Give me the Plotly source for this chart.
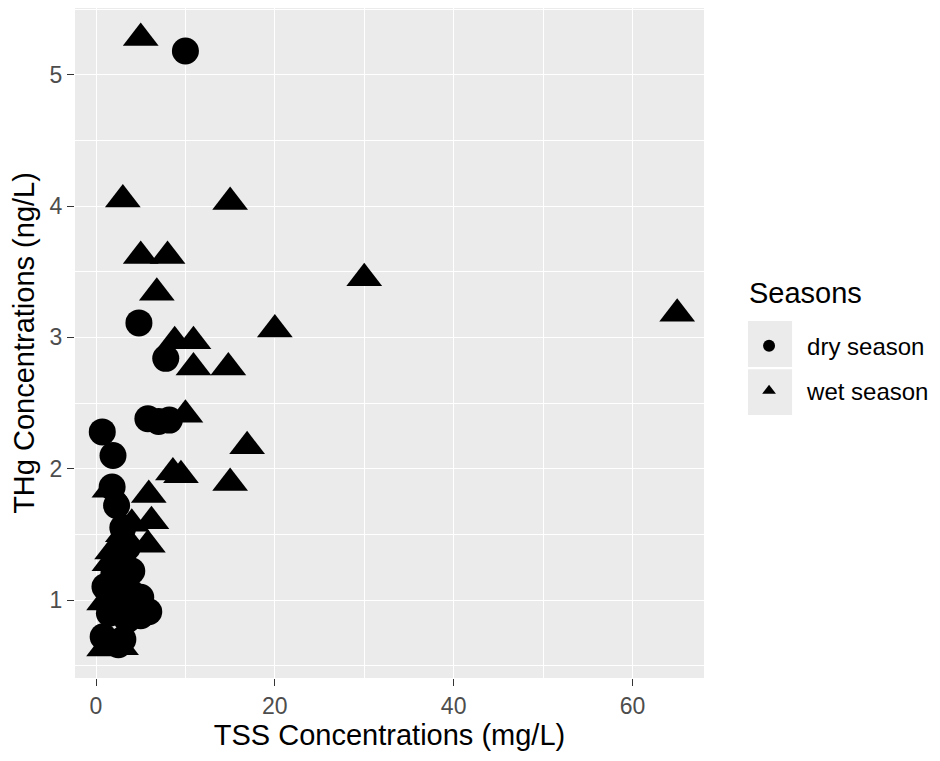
import plotly.graph_objects as go

# Dry season samples (TSS mg/L, THg ng/L)
dry_tss = [10.0, 4.8, 7.8, 5.8, 7.0, 8.2, 0.7, 1.9, 1.8, 2.3,
           1.0, 0.8, 1.5, 2.0, 2.5, 3.0, 3.0, 3.5, 4.0, 4.0,
           4.5, 5.0, 5.9, 5.0, 2.5, 3.5, 3.0]
dry_thg = [5.18, 3.11, 2.84, 2.38, 2.36, 2.37, 2.28, 2.10, 1.86, 1.72,
           1.10, 0.72, 0.90, 1.20, 1.00, 0.70, 1.30, 0.85, 1.05, 1.22,
           0.95, 0.88, 0.91, 1.02, 0.66, 1.40, 1.55]

# Wet season samples
wet_tss = [5.0, 3.0, 15.0, 5.0, 8.0, 6.8, 30.0, 65.0, 20.0, 8.8,
           10.9, 10.9, 14.8, 10.0, 16.9, 15.0, 8.6, 9.5, 5.9, 1.5,
           6.2, 5.8, 1.8, 3.0, 4.0, 0.9, 0.9, 2.8, 3.0, 1.5]
wet_thg = [5.28, 4.05, 4.03, 3.62, 3.62, 3.34, 3.45, 3.18, 3.06, 2.97,
           2.97, 2.77, 2.77, 2.41, 2.17, 1.89, 1.97, 1.95, 1.80, 1.84,
           1.60, 1.42, 1.37, 1.50, 1.58, 0.98, 0.63, 0.64, 1.15, 1.28]

x_ticks = [0, 20, 40, 60]
y_ticks = [1, 2, 3, 4, 5]

FONT = "Liberation Sans, Arial, sans-serif"

fig = go.Figure()
fig.add_trace(go.Scatter(
    x=dry_tss, y=dry_thg, mode="markers", name="dry season",
    legendgroup="dry",
    marker=dict(symbol="circle", size=27, color="black", line=dict(width=0)),
))
fig.add_trace(go.Scatter(
    x=wet_tss, y=wet_thg, mode="markers", name="wet season",
    legendgroup="wet",
    marker=dict(symbol="triangle-up", size=31, color="black", line=dict(width=0)),
))

# grey legend key backgrounds (ggplot style)
for y0, y1 in [(0.464, 0.533), (0.3925, 0.461)]:
    fig.add_shape(type="rect", xref="paper", yref="paper",
                  x0=1.070, x1=1.140, y0=y0, y1=y1,
                  fillcolor="#ebebeb", line=dict(width=0), layer="below")

# legend title
fig.add_annotation(text="Seasons", xref="paper", yref="paper",
                   x=1.068, y=0.5746, xanchor="left", yanchor="middle",
                   showarrow=False, font=dict(size=29, color="black"))

axis_common = dict(
    showgrid=True, gridcolor="white", gridwidth=1.4,
    zeroline=False, showline=False, automargin=False,
    ticks="outside", ticklen=7, tickwidth=1.3, tickcolor="#333333",
    tickfont=dict(size=23, color="#4d4d4d"),
)

fig.update_layout(
    width=940, height=761,
    margin=dict(l=67, r=244, t=0, b=91),
    paper_bgcolor="white",
    plot_bgcolor="#ebebeb",
    font=dict(family=FONT, color="black"),
    showlegend=True,
    legend=dict(
        font=dict(size=24, color="black"),
        itemsizing="constant",
        itemwidth=66,
        x=1.043, xanchor="left", y=0.529, yanchor="top",
        tracegroupgap=11,
        bgcolor="rgba(0,0,0,0)",
    ),
    xaxis=dict(
        range=[-2.35, 68.0],
        tickvals=x_ticks,
        ticktext=[str(v) for v in x_ticks],
        minor=dict(dtick=10, tick0=0, showgrid=True, gridcolor="white", gridwidth=0.7, ticks=""),
        title=dict(text="TSS Concentrations (mg/L)", font=dict(size=29, color="black"), standoff=6),
        **axis_common,
    ),
    yaxis=dict(
        range=[0.406, 5.508],
        tickvals=y_ticks,
        ticktext=[str(v) for v in y_ticks],
        minor=dict(dtick=0.5, tick0=0, showgrid=True, gridcolor="white", gridwidth=0.7, ticks=""),
        title=dict(text="THg Concentrations (ng/L)", font=dict(size=29, color="black"), standoff=6),
        **axis_common,
    ),
)

fig.write_html("out.html")
